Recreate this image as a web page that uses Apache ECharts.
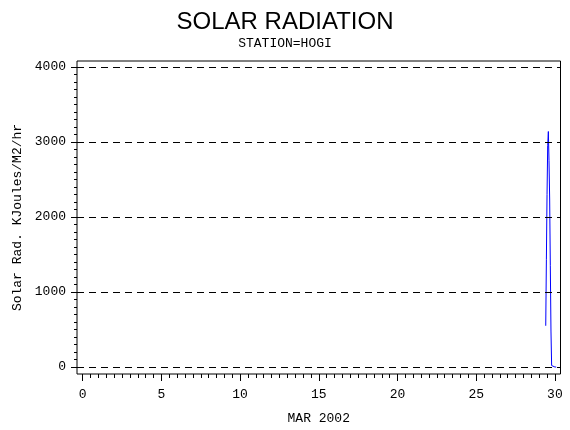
<!DOCTYPE html>
<html>
<head>
<meta charset="utf-8">
<script src="https://cdn.jsdelivr.net/npm/echarts@6/dist/echarts.min.js"></script>
<style>
  html, body { margin: 0; padding: 0; background: #fff; }
  #solar { width: 570px; height: 430px; }
</style>
</head>
<body>
<div id="solar"></div>
<script>
// hourly readings, day of month (decimal)
var obsDay = [29.417, 29.458, 29.5, 29.542, 29.583, 29.625, 29.667, 29.708, 29.75, 29.792,
              29.833, 29.875, 29.917, 29.958, 30.0, 30.042, 30.083, 30.111];
// solar radiation, KJoules/M2/hr
var solarRad = [550, 1430, 2300, 2950, 3140, 2750, 2240, 1350, 480, 20,
                0, 0, 0, 0, 0, 0, 0, 0];

var yTicks = [0, 1000, 2000, 3000, 4000];
var xTicks = [0, 5, 10, 15, 20, 25, 30];

// minor ticks: 10 steps between major ticks
function minorOf(ticks) {
    var out = [];
    for (var i = 0; i < ticks.length - 1; i++) {
        var step = (ticks[i + 1] - ticks[i]) / 10;
        for (var k = 1; k < 10; k++) out.push(ticks[i] + step * k);
    }
    return out;
}
var yMinor = minorOf(yTicks);
var xMinor = minorOf(xTicks);

var monoFont = 'Liberation Mono';
var plain = function (v) { return String(v); };

var dom = document.getElementById('solar');
var myChart = echarts.init(dom, null, { renderer: 'canvas' });

var points = obsDay.map(function (d, i) { return [d, solarRad[i]]; });

var xRange = { min: -0.362, max: 30.355 };
var yRange = { min: -93, max: 4080 };

// axis line hidden (the grid border is the frame), and kept off the zero line
var noLine = { show: false, onZero: false };

option = null;
option = {
    animation: false,
    backgroundColor: '#fff',
    title: [
        {
            text: 'SOLAR RADIATION',
            left: 'center',
            top: 5,
            textStyle: { fontFamily: 'Liberation Sans', fontSize: 24, fontWeight: 'normal', color: '#000' }
        },
        {
            text: 'STATION=HOGI',
            left: 'center',
            top: 32,
            textStyle: { fontFamily: monoFont, fontSize: 13, fontWeight: 'normal', color: '#000' }
        }
    ],
    grid: {
        left: 77, right: 9.5, top: 61, bottom: 56,
        show: true, borderColor: '#000', borderWidth: 1, backgroundColor: 'transparent'
    },
    xAxis: [
        {
            type: 'value', min: xRange.min, max: xRange.max, position: 'bottom',
            name: 'MAR 2002', nameLocation: 'middle', nameGap: 38,
            nameTextStyle: { fontFamily: monoFont, fontSize: 13, color: '#000' },
            axisLine: noLine,
            axisTick: { show: true, inside: false, length: 7, customValues: xTicks, lineStyle: { color: '#000' } },
            axisLabel: { margin: 14, customValues: xTicks, formatter: plain, fontFamily: monoFont, fontSize: 13, color: '#000' },
            splitLine: { show: false }
        },
        {
            type: 'value', min: xRange.min, max: xRange.max, position: 'bottom',
            axisLine: noLine,
            axisTick: { show: true, inside: false, length: 4, customValues: xMinor, lineStyle: { color: '#000' } },
            axisLabel: { show: false },
            splitLine: { show: false }
        }
    ],
    yAxis: [
        {
            type: 'value', min: yRange.min, max: yRange.max, position: 'left',
            name: 'Solar Rad. KJoules/M2/hr', nameLocation: 'middle', nameGap: 45,
            nameTextStyle: { fontFamily: monoFont, fontSize: 13, color: '#000' },
            axisLine: noLine,
            axisTick: { show: true, inside: false, length: 6, customValues: yTicks, lineStyle: { color: '#000' } },
            axisLabel: { margin: 11, customValues: yTicks, formatter: plain, fontFamily: monoFont, fontSize: 13, color: '#000' },
            splitLine: { show: false }
        },
        {
            type: 'value', min: yRange.min, max: yRange.max, position: 'left',
            axisLine: noLine,
            axisTick: { show: true, inside: false, length: 3, customValues: yMinor, lineStyle: { color: '#000' } },
            axisLabel: { show: false },
            splitLine: { show: false }
        }
    ],
    series: [
        {
            name: 'Solar Rad',
            type: 'line',
            xAxisIndex: 0,
            yAxisIndex: 0,
            data: points,
            showSymbol: false,
            lineStyle: { color: '#0000ff', width: 1 },
            markLine: {
                silent: true,
                symbol: 'none',
                label: { show: false },
                lineStyle: { color: '#000', type: [7, 5], width: 1 },
                data: yTicks.map(function (v) { return { yAxis: v }; })
            }
        }
    ]
};

if (option && typeof option === 'object') {
    myChart.setOption(option, true);
}
</script>
</body>
</html>
